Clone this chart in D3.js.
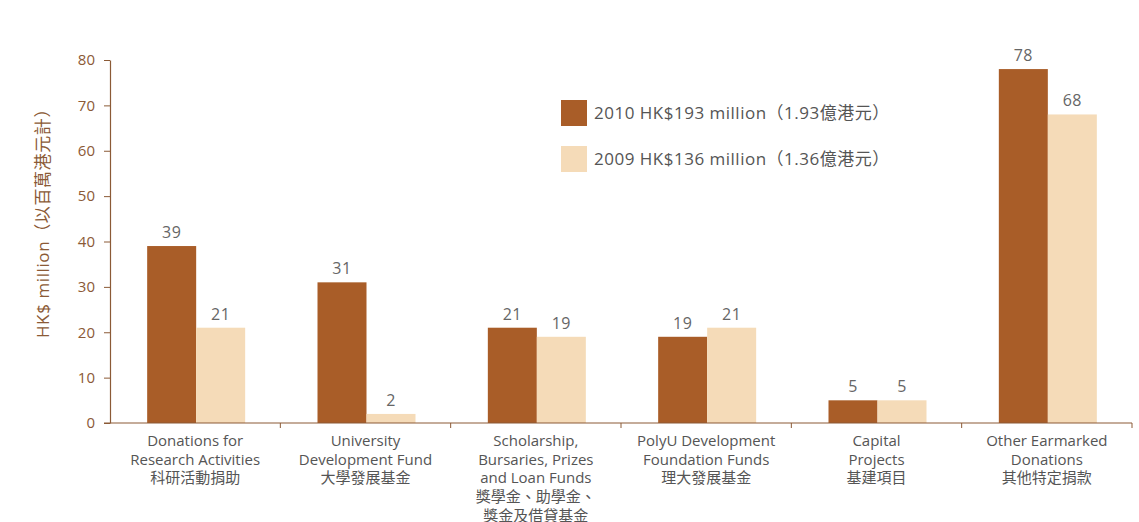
<!DOCTYPE html>
<html>
<head>
<meta charset="utf-8">
<script src="https://cdn.jsdelivr.net/npm/d3@7"></script>
<style>
body { margin: 0; background: #fff; }
svg text { font-family: "Open Sans", "Noto Sans CJK TC", sans-serif; }
</style>
</head>
<body>
<div id="chart"></div>
<script>
// data
const categories = [
  ["Donations for", "Research Activities", "科研活動捐助"],
  ["University", "Development Fund", "大學發展基金"],
  ["Scholarship,", "Bursaries, Prizes", "and Loan Funds", "獎學金、助學金、", "獎金及借貸基金"],
  ["PolyU Development", "Foundation Funds", "理大發展基金"],
  ["Capital", "Projects", "基建項目"],
  ["Other Earmarked", "Donations", "其他特定捐款"]
];
const series = ["2010", "2009"];
const values2010 = [39, 31, 21, 19, 5, 78];
const values2009 = [21, 2, 19, 21, 5, 68];
const legendLabels = ["2010 HK$193 million（1.93億港元）", "2009 HK$136 million（1.36億港元）"];
const yTicks = [0, 10, 20, 30, 40, 50, 60, 70, 80];

const width = 1139, height = 522;
const margin = {left: 110, right: 7, top: 60, bottom: 99};
const colors = ["#a95d28", "#f5dbb8"];
const axisColor = "#8b5a36";

const svg = d3.select("#chart").append("svg")
  .attr("width", width).attr("height", height);

const x = d3.scaleBand()
  .domain(d3.range(categories.length))
  .range([margin.left, width - margin.right]);

const y = d3.scaleLinear()
  .domain([0, 80])
  .range([height - margin.bottom, margin.top]);

const barW = 49;
const xs = d3.scaleBand().domain(series).range([-barW + 1, barW + 1]);

const groups = svg.selectAll(".grp")
  .data(categories.map((c, i) => ({i, vals: [values2010[i], values2009[i]]})))
  .join("g")
  .attr("transform", d => `translate(${x(d.i) + x.bandwidth() / 2},0)`);

groups.selectAll("rect")
  .data(d => d.vals.map((v, k) => ({v, k})))
  .join("rect")
  .attr("x", d => xs(series[d.k]))
  .attr("width", xs.bandwidth())
  .attr("y", d => y(d.v))
  .attr("height", d => y(0) - y(d.v))
  .attr("fill", d => colors[d.k]);

groups.selectAll("text.val")
  .data(d => d.vals.map((v, k) => ({v, k})))
  .join("text")
  .attr("class", "val")
  .attr("x", d => xs(series[d.k]) + xs.bandwidth() / 2)
  .attr("y", d => y(d.v) - 8)
  .attr("text-anchor", "middle")
  .attr("fill", "#666")
  .attr("font-size", 16)
  .attr("letter-spacing", 0.5)
  .text(d => d.v);

// y axis
const yAxis = svg.append("g")
  .attr("transform", `translate(${margin.left},0)`)
  .call(d3.axisLeft(y).tickValues(yTicks).tickSize(6).tickPadding(9).tickSizeOuter(0));
yAxis.select(".domain").attr("stroke", axisColor).attr("stroke-width", 1.2);
yAxis.selectAll(".tick line").attr("stroke", axisColor);
yAxis.selectAll(".tick text").attr("fill", axisColor).attr("font-size", 15);

// x axis
const x0 = y(0);
svg.append("line")
  .attr("x1", margin.left - 6).attr("x2", width - margin.right)
  .attr("y1", x0).attr("y2", x0)
  .attr("stroke", axisColor).attr("stroke-width", 1.2);
const bounds = d3.range(categories.length + 1).map(i => i < categories.length ? x(i) : x.range()[1]);
svg.selectAll(".xtick").data(bounds.slice(1))
  .join("line")
  .attr("x1", d => d).attr("x2", d => d)
  .attr("y1", x0).attr("y2", x0 + 5)
  .attr("stroke", axisColor);

svg.selectAll(".xlab").data(categories)
  .join("text")
  .attr("text-anchor", "middle")
  .attr("fill", "#555")
  .attr("font-size", 15)
  .attr("transform", (d, i) => `translate(${x(i) + x.bandwidth() / 2},${x0 + 23})`)
  .selectAll("tspan").data(d => d)
  .join("tspan")
  .attr("x", 0)
  .attr("dy", (d, i) => i ? 18.7 : 0)
  .text(d => d);

// y label
svg.append("text")
  .attr("transform", "translate(49,219) rotate(-90)")
  .attr("text-anchor", "middle")
  .attr("fill", axisColor)
  .attr("font-size", 17)
  .attr("letter-spacing", 0.6)
  .text("HK$ million（以百萬港元計）");

// legend
const legend = svg.selectAll(".leg").data(legendLabels)
  .join("g")
  .attr("transform", (d, i) => `translate(561,${100 + i * 46})`);
legend.append("rect")
  .attr("width", 26).attr("height", 26)
  .attr("fill", (d, i) => colors[i]);
legend.append("text")
  .attr("x", 33).attr("y", 19)
  .attr("fill", "#555")
  .attr("font-size", 17)
  .attr("letter-spacing", 0.5)
  .text(d => d);
</script>
</body>
</html>
